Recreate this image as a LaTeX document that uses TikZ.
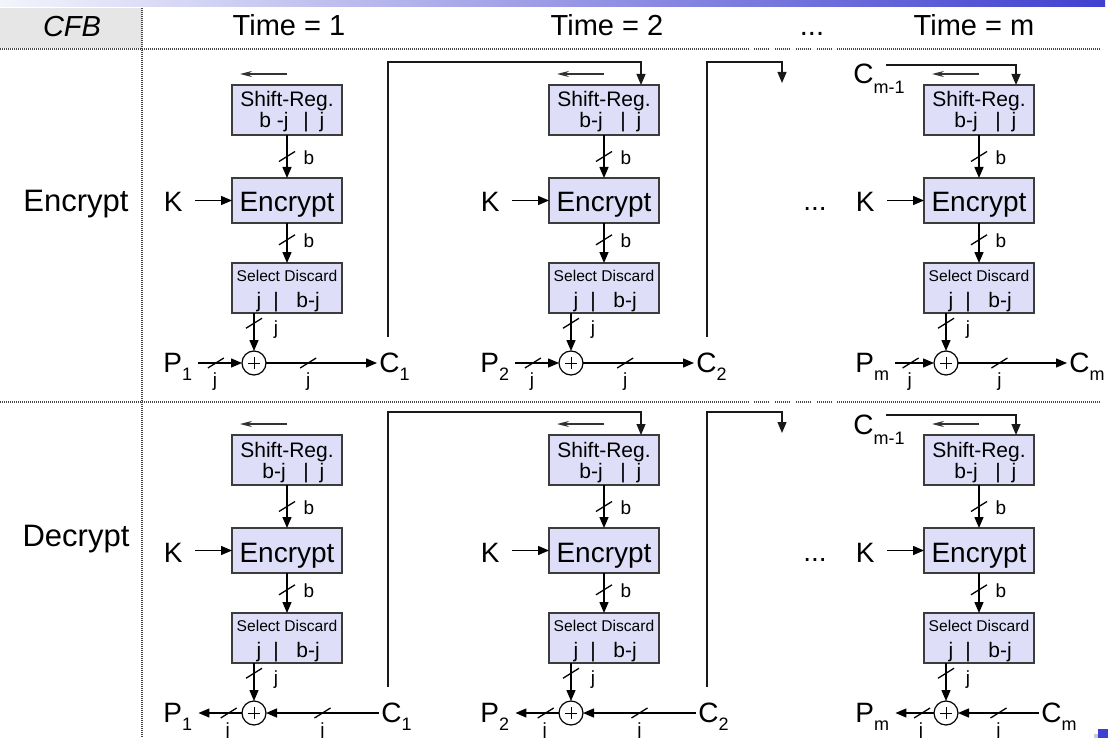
\documentclass[tikz,border=0pt]{standalone}
\usepackage{fontspec}
\setmainfont{Liberation Sans}
\usetikzlibrary{arrows.meta,calc}
\definecolor{boxfill}{RGB}{222,222,248}
\definecolor{boxline}{RGB}{60,60,60}
\definecolor{hdrgrey}{RGB}{230,230,230}
\definecolor{barblue}{RGB}{64,64,208}
\definecolor{barpale}{RGB}{244,244,252}
\definecolor{dotgrey}{RGB}{70,70,70}
\newcommand{\lowsub}[2][4pt]{\raisebox{-#1}{\fontsize{9}{9}\selectfont #2}}
\newcommand{\slashmark}[1]{\draw[markline] ($(#1)+(-8,5)$) -- ($(#1)+(8,-5)$);}
\begin{document}
\begin{tikzpicture}[x=0.5pt,y=-0.5pt,
  regbox/.style={draw=boxline, fill=boxfill, line width=0.55pt, inner sep=0pt, outer sep=0pt, minimum width=55pt, minimum height=25pt},
  encbox/.style={regbox, minimum height=22.5pt},
  bigtxt/.style={font=\fontsize{14}{16}\selectfont, inner sep=0pt},
  rowtxt/.style={font=\fontsize{15.5}{17}\selectfont, inner sep=0pt},
  midtxt/.style={font=\fontsize{10.5}{12}\selectfont, inner sep=0pt},
  smalltxt/.style={font=\fontsize{7.8}{9}\selectfont, inner sep=0pt},
  lbltxt/.style={font=\fontsize{9.5}{10}\selectfont, inner sep=0pt},
  wire/.style={line width=0.7pt, -{Triangle[length=5.5pt,width=4.5pt]}},
  fbwire/.style={line width=0.65pt, draw=black!90, -{Triangle[length=5.5pt,width=4.5pt]}},
  markline/.style={line width=0.65pt},
  shiftarr/.style={line width=0.6pt, draw=black!80, -{Stealth[length=6pt,width=3pt,inset=2pt]}},
  xorc/.style={circle, draw, line width=0.6pt, minimum size=12pt, inner sep=0pt, outer sep=0pt,
    path picture={\draw[line width=0.5pt] ([xshift=-3pt]path picture bounding box.center) -- ([xshift=3pt]path picture bounding box.center)
      ([yshift=-3pt]path picture bounding box.center) -- ([yshift=3pt]path picture bounding box.center);}},
  gridline/.style={draw=dotgrey, line width=0.55pt, dash pattern=on 0.5pt off 0.5pt}
]
\useasboundingbox (0,0) rectangle (1114,738);
% top bar and header
\shade[left color=barpale, right color=barblue] (0,0) rectangle (1105,7);
\fill[hdrgrey] (0,8) rectangle (141.5,48.5);
\foreach \a/\b in {0/750,754/770,775/791,796/812,817/833,837/1101}{
  \draw[gridline] (\a,49) -- (\b,49);
  \draw[gridline] (\a,402) -- (\b,402);
}
\draw[gridline] (142,8) -- (142,738);
\node[bigtxt, anchor=base, font=\fontsize{14.5}{16}\selectfont\itshape] (hcfb) at (72,37) {CFB};
\node[bigtxt, anchor=base, font=\fontsize{14.5}{16}\selectfont] (ht1) at (289,36) {Time = 1};
\node[bigtxt, anchor=base, font=\fontsize{14.5}{16}\selectfont] (ht2) at (607,36) {Time = 2};
\node[bigtxt, anchor=base, font=\fontsize{14.5}{16}\selectfont] (htd) at (812,36) {...};
\node[bigtxt, anchor=base, font=\fontsize{14.5}{16}\selectfont] (htm) at (974,36) {Time = m};
\node[rowtxt, anchor=base] (rowenc) at (76,212) {Encrypt};
\node[rowtxt, anchor=base] (rowdec) at (76,546) {Decrypt};
\node[bigtxt, anchor=base] (dots1) at (815,211) {...};
\node[bigtxt, anchor=base] (dots2) at (815,561) {...};
% columns
\foreach \r/\dy/\c/\cx/\s/\bj/\coff in {
  1/0/1/287/1/{b -j}/90,
  1/0/2/604/2/b-j/90,
  1/0/3/979/m/b-j/88,
  2/350/1/287/1/b-j/92,
  2/350/2/604/2/b-j/92,
  2/350/3/979/m/b-j/60}{
  % shift register
  \node[regbox] (sr-\r-\c) at (\cx,110+\dy) {};
  \node[midtxt, anchor=base] (srt-\r-\c) at (\cx,107+\dy) {Shift-Reg.};
  \node[midtxt, anchor=base] (srl-\r-\c) at (\cx-13,128+\dy) {\bj};
  \node[midtxt, anchor=base] (srm-\r-\c) at (\cx+19,128+\dy) {|};
  \node[midtxt, anchor=base] (srr-\r-\c) at (\cx+35,128+\dy) {j};
  \coordinate (tap-\r-\c) at ($(sr-\r-\c.north)+(37,0)$);
  \coordinate (sha-\r-\c) at (\cx,74+\dy);
  \coordinate (shb-\r-\c) at (\cx-47,74+\dy);
  \draw[shiftarr] (sha-\r-\c) -- (shb-\r-\c);
  % encrypt block
  \node[encbox] (enc-\r-\c) at (\cx,200.5+\dy) {};
  \node[bigtxt, anchor=base] (enct-\r-\c) at (\cx,212+\dy) {Encrypt};
  \node[bigtxt, anchor=base east, inner xsep=6pt] (k-\r-\c) at (\cx-92,212+\dy) {K};
  \draw[wire] (k-\r-\c.east |- enc-\r-\c.west) -- (enc-\r-\c.west);
  % select block
  \node[regbox] (sel-\r-\c) at (\cx,288+\dy) {};
  \node[smalltxt, anchor=base] (selt-\r-\c) at (\cx,281+\dy) {Select Discard};
  \node[midtxt, anchor=base] (sell-\r-\c) at (\cx-28,307+\dy) {j};
  \node[midtxt, anchor=base] (selm-\r-\c) at (\cx-11,307+\dy) {|};
  \node[midtxt, anchor=base] (selr-\r-\c) at (\cx+21,307+\dy) {b-j};
  % vertical wires
  \draw[wire] (sr-\r-\c.south) -- coordinate[pos=0.5] (s1-\r-\c) (enc-\r-\c.north);
  \slashmark{s1-\r-\c}
  \node[lbltxt] (l1-\r-\c) at ($(s1-\r-\c)+(22,1)$) {b};
  \draw[wire] (enc-\r-\c.south) -- coordinate[pos=0.42] (s2-\r-\c) (sel-\r-\c.north);
  \slashmark{s2-\r-\c}
  \node[lbltxt] (l2-\r-\c) at ($(s2-\r-\c)+(22,1)$) {b};
  % xor
  \node[xorc] (x-\r-\c) at (\cx-33,363+\dy) {};
  \draw[wire] (sel-\r-\c.south -| x-\r-\c) -- coordinate[pos=0.27] (s3-\r-\c) (x-\r-\c.north);
  \slashmark{s3-\r-\c}
  \node[lbltxt] (l3-\r-\c) at ($(s3-\r-\c)+(22,6)$) {j};
  % P and C
  \node[bigtxt, anchor=base west, inner xsep=1pt] (p-\r-\c) at (\cx-126,372+\dy) {P\lowsub{\s}};
  \node[bigtxt, anchor=base west, inner xsep=1pt] (c-\r-\c) at (\cx+\coff,372+\dy) {C\lowsub{\s}};
  \ifnum\r=1
    \draw[wire, shorten <=2pt] (p-\r-\c.east |- x-\r-\c) -- coordinate[pos=0.45] (s4-\r-\c) (x-\r-\c.west);
    \draw[wire] (x-\r-\c.east) -- coordinate[pos=0.38] (s5-\r-\c) (c-\r-\c.west |- x-\r-\c);
  \else
    \draw[wire, shorten >=2pt] (x-\r-\c.west) -- coordinate[pos=0.28] (s4-\r-\c) (p-\r-\c.east |- x-\r-\c);
    \draw[wire] (c-\r-\c.west |- x-\r-\c) -- coordinate[pos=0.5] (s5-\r-\c) (x-\r-\c.east);
  \fi
  \slashmark{s4-\r-\c}
  \slashmark{s5-\r-\c}
  \node[lbltxt] (l4-\r-\c) at ($(s4-\r-\c)+(-1,19)$) {j};
  \node[lbltxt] (l5-\r-\c) at ($(s5-\r-\c)+(0,19)$) {j};
}
% feedback lines
\foreach \r/\dy in {1/0,2/350}{
  \coordinate (fb-\r-1) at (388,337+\dy);
  \draw[fbwire] (fb-\r-1) |- ($(tap-\r-2)+(0,-23)$) -- (tap-\r-2);
  \coordinate (fb-\r-2) at (707,337+\dy);
  \coordinate (end-\r-2) at (782,83+\dy);
  \draw[fbwire] (fb-\r-2) |- ($(end-\r-2)+(0,-21)$) -- (end-\r-2);
  \node[bigtxt, anchor=base west, inner xsep=1pt] (cm-\r) at (851,84+\dy) {C\lowsub[5pt]{m-1}};
  \coordinate (cs-\r) at (886,65+\dy);
  \draw[fbwire] (cs-\r) -| (tap-\r-3);
}
% corner mark
\fill[black!20] (1094,734) rectangle (1104,738);
\fill[barblue] (1098,729) rectangle (1108,738);
\end{tikzpicture}
\end{document}
